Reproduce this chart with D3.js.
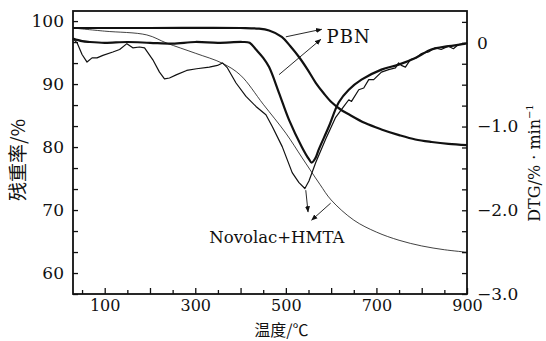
<!DOCTYPE html>
<html>
<head>
<meta charset="utf-8">
<script src="https://cdn.jsdelivr.net/npm/d3@7"></script>
<style>
  body { margin: 0; background: #fff; }
  svg { display: block; }
  text { fill: #111; }
</style>
</head>
<body>
<svg id="chart" width="546" height="341"></svg>
<script>
// TG curves, [temperature, residue %]
var pbnTG = [[30, 98.9], [200, 98.9], [400, 98.9], [440, 98.8], [463, 98.5], [491, 97.5], [510, 96.0],
  [529, 94.3], [548, 92.3], [566, 90.2], [584, 88.5], [601, 87.1], [620, 86.0], [639, 85.2], [675, 83.8],
  [711, 82.8], [750, 81.9], [786, 81.2], [822, 80.8], [859, 80.5], [900, 80.3]];

var novolacTG = [[30, 98.9], [100, 98.4], [193, 97.8], [237, 96.5], [300, 94.9], [360, 93.3], [400, 91.4],
  [450, 86.8], [500, 82.2], [535, 78.4], [575, 74.1], [600, 71.6], [650, 68.4], [700, 66.5], [750, 65.2],
  [800, 64.3], [850, 63.7], [900, 63.3]];

// DTG curves, [temperature, %/min]
var pbnDTG = [[30, 0.05], [50, 0.02], [67, 0.01], [100, 0.0], [150, 0.01], [200, 0.0], [250, -0.01],
  [300, 0.01], [350, 0.0], [404, 0.01], [420, 0.0], [434, -0.08], [450, -0.18], [463, -0.29], [485, -0.60],
  [507, -0.92], [535, -1.24], [551, -1.39], [557, -1.43], [565, -1.38], [573, -1.27], [595, -1.00],
  [617, -0.71], [639, -0.56], [667, -0.44], [711, -0.32], [749, -0.26], [786, -0.18], [821, -0.08],
  [859, -0.04], [896, -0.01], [900, 0.0]];

var novolacDTG = [[30, 0.05], [39, 0.0], [50, -0.14], [61, -0.23], [72, -0.18], [83, -0.18], [96, -0.15],
  [118, -0.11], [133, -0.08], [149, -0.01], [162, -0.06], [177, -0.05], [188, -0.06], [206, -0.20],
  [221, -0.35], [232, -0.43], [243, -0.42], [259, -0.38], [281, -0.33], [303, -0.31], [331, -0.29],
  [349, -0.27], [360, -0.24], [371, -0.30], [390, -0.48], [412, -0.64], [434, -0.76], [456, -0.86],
  [470, -1.00], [492, -1.24], [514, -1.55], [529, -1.67], [542, -1.74], [551, -1.65], [566, -1.43],
  [588, -1.15], [610, -0.89], [628, -0.76], [639, -0.68], [645, -0.70], [661, -0.56], [672, -0.54],
  [683, -0.44], [694, -0.44], [711, -0.35], [727, -0.32], [742, -0.30], [749, -0.24], [755, -0.27],
  [764, -0.29], [775, -0.20], [788, -0.18], [799, -0.13], [815, -0.11], [830, -0.06], [843, -0.08],
  [859, -0.04], [870, -0.07], [881, -0.02], [896, -0.01], [900, -0.01]];

var xLabels = [100, 300, 500, 700, 900];
var tgLabels = [60, 70, 80, 90, 100];
var dtgLabels = [0, -1, -2, -3];

var margin = {top: 11, right: 79, bottom: 47, left: 73};
var width = 546 - margin.left - margin.right;
var height = 341 - margin.top - margin.bottom;
var serif = "'DejaVu Serif', serif";
var cjk = "'Noto Sans CJK SC', sans-serif";

var svg = d3.select("#chart");
var g = svg.append("g").attr("transform", "translate(" + margin.left + "," + margin.top + ")");

var x = d3.scaleLinear().domain([30, 900]).range([0, width]);
var yTG = d3.scaleLinear().domain([56.67, 101.6]).range([height, 0]);
var yDTG = d3.scaleLinear().domain([-3.0, 0.38]).range([height, 0]);

// ticks
var xTicks = d3.range(50, 901, 50);
var tgTicks = d3.range(-1, 13).map(k => 60 + k * 10 / 3).filter(v => v <= 101.6);
var dtgTicks = d3.range(-12, 2).map(k => k * 0.25);

var xAxis = g.append("g").attr("transform", "translate(0," + height + ")")
  .call(d3.axisBottom(x).tickValues(xTicks).tickSizeInner(-4).tickSizeOuter(0).tickPadding(6)
    .tickFormat(d => xLabels.includes(d) ? d : ""));
xAxis.selectAll(".tick line").attr("y2", d => d % 100 == 0 ? -6 : -4);

var lAxis = g.append("g")
  .call(d3.axisLeft(yTG).tickValues(tgTicks).tickSizeInner(-5).tickSizeOuter(0).tickPadding(9)
    .tickFormat(d => { let r = Math.round(d); return (Math.abs(d - r) < 0.01 && tgLabels.includes(r)) ? r : ""; }));

var rAxis = g.append("g").attr("transform", "translate(" + width + ",0)")
  .call(d3.axisRight(yDTG).tickValues(dtgTicks).tickSizeInner(-5).tickSizeOuter(0).tickPadding(10)
    .tickFormat(d => dtgLabels.includes(d) ? (d == 0 ? "0" : "\u2212" + Math.abs(d).toFixed(1)) : ""));

[xAxis, lAxis, rAxis].forEach(a => {
  a.select(".domain").remove();
  a.selectAll(".tick line").attr("stroke", "#111").attr("stroke-width", 1.3);
  a.selectAll(".tick text").attr("font-family", serif).attr("font-size", 17).attr("fill", "#111");
});
xAxis.selectAll(".tick text").attr("font-size", 16);

// frame
g.append("rect").attr("width", width).attr("height", height)
  .attr("fill", "none").attr("stroke", "#111").attr("stroke-width", 1.8);

// curves
var tgLine = d3.line().x(d => x(d[0])).y(d => yTG(d[1])).curve(d3.curveCatmullRom.alpha(0.5));
var dtgLine = d3.line().x(d => x(d[0])).y(d => yDTG(d[1])).curve(d3.curveCatmullRom.alpha(0.5));
var dtgRough = d3.line().x(d => x(d[0])).y(d => yDTG(d[1])).curve(d3.curveLinear);

g.append("path").datum(novolacTG).attr("d", tgLine)
  .attr("fill", "none").attr("stroke", "#111").attr("stroke-width", 0.8);
g.append("path").datum(novolacDTG).attr("d", dtgRough)
  .attr("fill", "none").attr("stroke", "#111").attr("stroke-width", 1.2).attr("stroke-linejoin", "round");
g.append("path").datum(pbnTG).attr("d", tgLine)
  .attr("fill", "none").attr("stroke", "#111").attr("stroke-width", 2.2);
g.append("path").datum(pbnDTG).attr("d", dtgLine)
  .attr("fill", "none").attr("stroke", "#111").attr("stroke-width", 2.2);

// arrows
svg.append("defs").append("marker").attr("id", "head")
  .attr("viewBox", "0 0 10 10").attr("refX", 9).attr("refY", 5)
  .attr("markerWidth", 7).attr("markerHeight", 7).attr("orient", "auto")
  .append("path").attr("d", "M0,1 L10,5 L0,9 Z").attr("fill", "#111");

var arrows = [
  [x(500), yTG(97.5), x(579), yTG(98.7)],
  [x(485), yDTG(-0.38), x(577), yDTG(0.04)],
  [x(544), yDTG(-1.76), x(549), yDTG(-2.02)],
  [x(599), yTG(71.1), x(557), yTG(68.4)]
];
g.selectAll(".arrow").data(arrows).enter().append("line")
  .attr("x1", d => d[0]).attr("y1", d => d[1]).attr("x2", d => d[2]).attr("y2", d => d[3])
  .attr("stroke", "#111").attr("stroke-width", 0.9).attr("marker-end", "url(#head)");

// curve labels
g.append("text").attr("x", x(590)).attr("y", yDTG(0.0)).text("PBN")
  .attr("font-family", serif).attr("font-size", 18).attr("letter-spacing", 1);
g.append("text").attr("x", x(331)).attr("y", yDTG(-2.39)).text("Novolac+HMTA")
  .attr("font-family", serif).attr("font-size", 16.5);

// axis titles
svg.append("text").attr("x", margin.left + x(490)).attr("y", 336).attr("text-anchor", "middle")
  .attr("font-family", cjk).attr("font-size", 16).text("温度/℃");
svg.append("text").attr("transform", "translate(25,160) rotate(-90)").attr("text-anchor", "middle")
  .attr("font-family", cjk).attr("font-size", 19).text("残重率/%");
var rt = svg.append("text").attr("transform", "translate(540,163) rotate(-90)").attr("text-anchor", "middle")
  .attr("font-family", serif).attr("font-size", 16);
rt.append("tspan").text("DTG/% · min");
rt.append("tspan").attr("dy", -7).attr("font-size", 10).text("\u22121");
</script>
</body>
</html>
